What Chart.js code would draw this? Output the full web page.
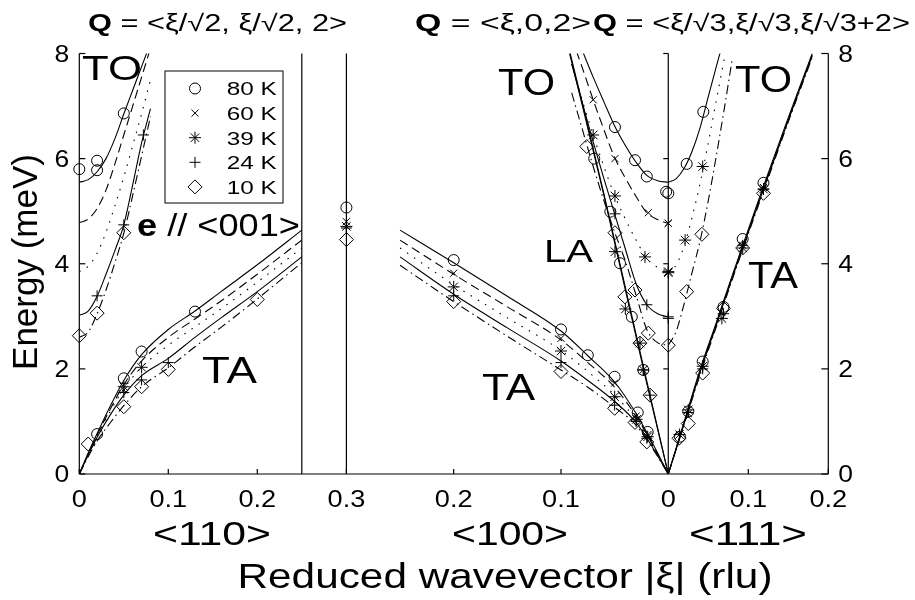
<!DOCTYPE html>
<html>
<head>
<meta charset="utf-8">
<script src="https://cdn.jsdelivr.net/npm/chart.js@4"></script>
<style>
    html, body { margin: 0; padding: 0; background: #fff; }
    #wrap { width: 915px; height: 600px; }
</style>
</head>
<body>
<div id="wrap"><canvas id="chart__dispersion"></canvas></div>
<script>
const temps = ['80 K', '60 K', '39 K', '24 K', '10 K'];

const xiTA110 = [0, 0.01, 0.02, 0.035, 0.05, 0.07, 0.1, 0.13, 0.16, 0.2, 0.25];
const ta110 = {
    '80 K': [0, 0.40, 0.77, 1.30, 1.78, 2.27, 2.75, 3.10, 3.48, 3.98, 4.64],
    '60 K': [0, 0.38, 0.74, 1.24, 1.70, 2.15, 2.60, 2.95, 3.30, 3.80, 4.45],
    '39 K': [0, 0.37, 0.72, 1.20, 1.62, 2.03, 2.45, 2.80, 3.15, 3.65, 4.30],
    '24 K': [0, 0.36, 0.70, 1.13, 1.50, 1.87, 2.20, 2.60, 2.98, 3.47, 4.13],
    '10 K': [0, 0.33, 0.63, 0.98, 1.30, 1.66, 2.02, 2.42, 2.80, 3.33, 4.02]
};
const xiTO110 = [0, 0.01, 0.02, 0.03, 0.04, 0.05, 0.06, 0.07, 0.08];
const to110 = {
    '80 K': [5.55, 5.60, 5.75, 6.00, 6.38, 6.85, 7.30, 7.75, 8.20],
    '60 K': [4.78, 4.85, 5.05, 5.40, 5.90, 6.45, 7.00, 7.55, 8.10],
    '39 K': [3.85, 3.95, 4.20, 4.60, 5.10, 5.65, 6.25, 6.85, 7.50],
    '24 K': [3.02, 3.10, 3.38, 3.80, 4.25, 4.74, 5.50, 6.30, 6.95],
    '10 K': [2.60, 2.70, 3.05, 3.50, 4.02, 4.58, 5.30, 6.05, 6.80]
};

// <100> : TA, LA and TO branches
const xiTA100 = [0, 0.015, 0.03, 0.05, 0.075, 0.1, 0.15, 0.2, 0.25];
const ta100 = {
    '80 K': [0, 0.60, 1.15, 1.75, 2.25, 2.72, 3.38, 4.02, 4.64],
    '60 K': [0, 0.57, 1.10, 1.65, 2.12, 2.55, 3.18, 3.80, 4.45],
    '39 K': [0, 0.55, 1.03, 1.50, 1.95, 2.35, 2.97, 3.60, 4.30],
    '24 K': [0, 0.52, 0.98, 1.38, 1.78, 2.15, 2.78, 3.42, 4.13],
    '10 K': [0, 0.50, 0.93, 1.27, 1.65, 1.98, 2.62, 3.28, 3.97]
};
const xiTO100 = [0, 0.01, 0.02, 0.03, 0.04, 0.05, 0.06, 0.07, 0.08, 0.09];
const to100 = {
    '80 K': [5.55, 5.58, 5.68, 5.93, 6.25, 6.62, 7.08, 7.55, 8.05, null],
    '60 K': [4.77, 4.84, 4.97, 5.28, 5.63, 6.02, 6.55, 7.12, 7.72, 8.30],
    '39 K': [3.85, 3.93, 4.10, 4.45, 4.85, 5.30, 5.85, 6.45, 7.10, 7.80],
    '24 K': [2.99, 3.05, 3.22, 3.62, 4.28, 4.95, 5.62, 6.32, 7.05, 7.80],
    '10 K': [2.45, 2.50, 2.75, 3.40, 4.05, 4.60, 5.20, 5.85, 6.55, 7.25]
};
const xiLA100 = [0, 0.02, 0.04, 0.06, 0.08, 0.092];
const la100 = {
    '80 K': [0, 1.72, 3.50, 5.30, 7.00, 8.00],
    '24 K': [0, 1.76, 3.55, 5.33, 7.05, 8.05]
};

// <111> : TA and TO branches
const xiTA111 = [0, 0.02, 0.04, 0.06, 0.08, 0.1, 0.12, 0.15, 0.18];
const ta111 = {
    '80 K': [0, 1.00, 2.00, 2.88, 3.78, 4.65, 5.52, 6.78, 8.00],
    '60 K': [0, 0.98, 1.96, 2.85, 3.75, 4.62, 5.48, 6.75, 7.98],
    '39 K': [0, 0.97, 1.94, 2.82, 3.72, 4.60, 5.45, 6.72, 7.95],
    '24 K': [0, 0.97, 1.95, 2.84, 3.74, 4.60, 5.46, 6.73, 7.96],
    '10 K': [0, 0.95, 1.90, 2.80, 3.70, 4.57, 5.42, 6.70, 7.93]
};
const xiTO111 = [0, 0.01, 0.02, 0.03, 0.04, 0.05, 0.06, 0.07, 0.08];
const to111 = {
    '80 K': [5.55, 5.62, 5.82, 6.15, 6.60, 7.18, 7.75, 8.30, null],
    '39 K': [3.83, 3.98, 4.35, 4.90, 5.55, 6.30, 7.10, 7.90, null],
    '10 K': [2.45, 2.72, 3.25, 3.85, 4.45, 5.20, 6.05, 6.95, 7.90]
};

// measured points [xi, E]
const obs110 = {
    '80 K': [[0, 5.80], [0.02, 5.96], [0.02, 5.78], [0.05, 6.86], [0.02, 0.76], [0.05, 1.82], [0.07, 2.33], [0.13, 3.09]],
    '60 K': [[0.05, 1.60]],
    '39 K': [[0.05, 1.66], [0.07, 2.03]],
    '24 K': [[0.02, 3.39], [0.05, 4.74], [0.072, 6.45], [0.05, 1.55], [0.07, 1.79], [0.1, 2.12]],
    '10 K': [[0, 2.63], [0.02, 3.06], [0.05, 4.59], [0.01, 0.57], [0.05, 1.28], [0.07, 1.66], [0.1, 1.99], [0.2, 3.32]]
};
const obs100 = {
    '80 K': [[0.0497, 6.60], [0.031, 5.97], [0.020, 5.66], [0, 5.34], [0.002, 5.37],
             [0.069, 6.00], [0.054, 4.99], [0.045, 4.01], [0.034, 2.99], [0.0233, 1.98],
             [0.2, 4.07], [0.1, 2.75], [0.075, 2.26], [0.05, 1.85], [0.0285, 1.17], [0.0192, 0.80]],
    '60 K': [[0.07, 7.12], [0.0497, 6.00], [0.0186, 4.97], [0, 4.77],
             [0.2, 3.82], [0.1, 2.58], [0.05, 1.73], [0.03, 1.10], [0.019, 0.75]],
    '39 K': [[0.07, 6.45], [0.0497, 5.29], [0.0217, 4.13], [0, 3.85],
             [0.0497, 4.23], [0.040, 3.14], [0.0264, 2.49], [0.0233, 1.98],
             [0.2, 3.56], [0.1, 2.34], [0.05, 1.47], [0.0295, 1.04], [0.0192, 0.71]],
    '24 K': [[0.0497, 4.95], [0.020, 3.22], [0, 2.99],
             [0.0233, 1.98], [0.017, 1.50],
             [0.2, 3.39], [0.1, 2.12], [0.05, 1.31], [0.03, 1.00], [0.02, 0.68]],
    '10 K': [[0.076, 6.23], [0.0497, 4.59], [0.031, 3.50], [0.0186, 2.68], [0, 2.45],
             [0.0404, 3.37], [0.0264, 2.49], [0.017, 1.50],
             [0.2, 3.28], [0.1, 1.95], [0.05, 1.25], [0.031, 0.98], [0.02, 0.61]]
};
const obs111 = {
    '80 K': [[0.023, 5.90], [0.0438, 6.89],
             [0.0146, 0.71], [0.025, 1.19], [0.043, 2.14], [0.069, 3.18], [0.093, 4.47], [0.119, 5.54]],
    '60 K': [[0, 4.77], [0.025, 1.15], [0.043, 2.05], [0.093, 4.35], [0.119, 5.45]],
    '39 K': [[0, 3.83], [0.021, 4.45], [0.043, 5.85],
             [0.014, 0.75], [0.025, 1.22], [0.043, 2.05], [0.067, 2.96], [0.093, 4.30], [0.119, 5.42]],
    '24 K': [[0, 2.96], [0.025, 1.17], [0.043, 2.00], [0.069, 3.05], [0.093, 4.35], [0.119, 5.42]],
    '10 K': [[0.023, 3.47], [0.042, 4.56],
             [0.0134, 0.68], [0.025, 0.96], [0.043, 1.92], [0.069, 3.15], [0.093, 4.30], [0.119, 5.34]]
};
// points past the <110> zone edge, plotted at <100> xi = 0.3
const xiEdge = 0.3;
const obsEdge = { '80 K': 5.07, '60 K': 4.80, '39 K': 4.71, '24 K': 4.68, '10 K': 4.46 };

const yTicks = [0, 2, 4, 6, 8];
const ticks110 = [0, 0.1, 0.2];
const ticks100 = [0.3, 0.2, 0.1, 0];
const ticks111 = [0.1, 0.2];

// the three directions share one x axis, each with its own scale
const U_ZERO100 = 0.6618;
const K100 = 1.2056;
const K111 = 0.8989;
const U_MAX = 0.8416;
const map110 = xi => xi;
const map100 = xi => U_ZERO100 - xi * K100;
const map111 = xi => U_ZERO100 + xi * K111;

const dashes = { '80 K': [], '60 K': [9, 5], '39 K': [1.5, 7], '24 K': [], '10 K': [9, 4, 1.5, 4] };
const markers = {
    '80 K': { pointStyle: 'circle', pointRadius: 5.5 },
    '60 K': { pointStyle: 'crossRot', pointRadius: 5 },
    '39 K': { pointStyle: 'star', pointRadius: 6 },
    '24 K': { pointStyle: 'cross', pointRadius: 5.5 },
    '10 K': { pointStyle: 'rectRot', pointRadius: 7 }
};

function curve(xs, es, map, t) {
    const pts = [];
    xs.forEach((xi, i) => { if (es[i] !== null) pts.push({ x: map(xi), y: es[i] }); });
    pts.sort((a, b) => a.x - b.x);
    return {
        label: t + ' fit', data: pts, showLine: true, pointRadius: 0,
        borderColor: '#000', borderWidth: 1.1, borderDash: dashes[t],
        cubicInterpolationMode: 'monotone', fill: false
    };
}

const datasets = [];
temps.forEach(t => {
    datasets.push(curve(xiTA110, ta110[t], map110, t));
    datasets.push(curve(xiTO110, to110[t], map110, t));
    datasets.push(curve(xiTA100, ta100[t], map100, t));
    datasets.push(curve(xiTO100, to100[t], map100, t));
    datasets.push(curve(xiTA111, ta111[t], map111, t));
    if (la100[t]) datasets.push(curve(xiLA100, la100[t], map100, t));
    if (to111[t]) datasets.push(curve(xiTO111, to111[t], map111, t));
});
temps.forEach(t => {
    const pts = []
        .concat(obs110[t].map(p => ({ x: map110(p[0]), y: p[1] })))
        .concat(obs100[t].map(p => ({ x: map100(p[0]), y: p[1] })))
        .concat(obs111[t].map(p => ({ x: map111(p[0]), y: p[1] })));
    pts.push({ x: map100(xiEdge), y: obsEdge[t] });
    datasets.push(Object.assign({
        label: t, data: pts, showLine: false, clip: false,
        borderColor: '#000', backgroundColor: 'rgba(0,0,0,0)',
        pointBorderWidth: 1, pointBorderColor: '#000', pointBackgroundColor: 'rgba(0,0,0,0)'
    }, markers[t]));
});

const FONT = '"Liberation Sans", Arial, Helvetica, sans-serif';

// text squeezed or stretched horizontally to a given width (the figure is wide)
function label(ctx, parts, x, base, size, opt) {
    opt = opt || {};
    let w = 0;
    parts.forEach(p => {
        ctx.font = (p.bold ? 'bold ' : '') + size + 'px ' + FONT;
        p.w = ctx.measureText(p.t).width;
        w += p.w;
    });
    const s = opt.width ? opt.width / w : (opt.sx || 1);
    const align = opt.align || 'left';
    const left = align === 'center' ? x - w * s / 2 : align === 'right' ? x - w * s : x;
    ctx.save();
    ctx.translate(left, base);
    ctx.scale(s, 1);
    ctx.textAlign = 'left';
    ctx.textBaseline = 'alphabetic';
    let cx = 0;
    parts.forEach(p => {
        ctx.font = (p.bold ? 'bold ' : '') + size + 'px ' + FONT;
        ctx.fillText(p.t, cx, 0);
        cx += p.w;
    });
    ctx.restore();
}

const frame = {
    id: 'frame',
    afterDatasetsDraw(chart) {
        const { ctx, chartArea: a, scales: { x, y } } = chart;
        ctx.save();
        ctx.strokeStyle = '#000';
        ctx.fillStyle = '#000';
        ctx.lineWidth = 1.2;
        const seg = (x1, y1, x2, y2) => {
            ctx.beginPath(); ctx.moveTo(x1, y1); ctx.lineTo(x2, y2); ctx.stroke();
        };

        // axis box (no top line) and panel separators
        seg(a.left, a.top, a.left, a.bottom);
        seg(a.left, a.bottom, a.right, a.bottom);
        seg(a.right, a.top, a.right, a.bottom);
        [map110(0.25), map100(xiEdge), map100(0)].forEach(u => {
            const px = x.getPixelForValue(u);
            seg(px, a.top, px, a.bottom);
        });

        // y ticks, inward
        const mid = x.getPixelForValue(map100(0));
        yTicks.forEach(v => {
            const py = y.getPixelForValue(v);
            seg(a.left, py, a.left + 6, py);
            seg(a.right, py, a.right - 7, py);
            if (v > 0) seg(mid, py, mid - 5, py);
            label(ctx, [{ t: String(v) }], a.left - 10, py + 8.3, 23, { align: 'right', sx: 1.15 });
            label(ctx, [{ t: String(v) }], a.right + 10, py + 8.3, 23, { align: 'left', sx: 1.15 });
        });

        // x ticks, inward
        const xt = []
            .concat(ticks110.map(v => [map110(v), v]))
            .concat(ticks100.map(v => [map100(v), v]))
            .concat(ticks111.map(v => [map111(v), v]));
        xt.forEach(([u, v]) => {
            const px = x.getPixelForValue(u);
            seg(px, a.bottom, px, a.bottom - 5);
            label(ctx, [{ t: String(v) }], px, 507, 23, { align: 'center', sx: 1.18 });
        });

        // direction labels and axis titles
        label(ctx, [{ t: '<110>' }], 212, 545, 33, { align: 'center', width: 118 });
        label(ctx, [{ t: '<100>' }], 510, 545, 33, { align: 'center', width: 116 });
        label(ctx, [{ t: '<111>' }], 748, 545, 33, { align: 'center', width: 118 });
        label(ctx, [{ t: 'Reduced wavevector |ξ| (rlu)' }], 505, 588, 35, { align: 'center', width: 535 });

        ctx.save();
        ctx.translate(37, 262);
        ctx.rotate(-Math.PI / 2);
        ctx.font = '35px ' + FONT;
        ctx.textAlign = 'center';
        ctx.textBaseline = 'alphabetic';
        ctx.fillText('Energy (meV)', 0, 0);
        ctx.restore();

        // panel titles
        label(ctx, [{ t: 'Q', bold: true }, { t: ' = <ξ/√2, ξ/√2, 2>' }], 88, 31, 23, { width: 259 });
        label(ctx, [{ t: 'Q', bold: true }, { t: ' = <ξ,0,2>' }], 415, 31, 23, { width: 176 });
        label(ctx, [{ t: 'Q', bold: true }, { t: ' = <ξ/√3,ξ/√3,ξ/√3+2>' }], 593, 31, 23, { width: 317 });

        // branch labels
        label(ctx, [{ t: 'TO' }], 82, 80, 35, { width: 60 });
        label(ctx, [{ t: 'e', bold: true }, { t: ' // <001>' }], 137, 236, 31, { width: 163 });
        label(ctx, [{ t: 'TA' }], 202, 383, 36, { width: 55 });
        label(ctx, [{ t: 'TO' }], 498, 95, 36, { width: 57 });
        label(ctx, [{ t: 'LA' }], 544, 262, 31, { width: 49 });
        label(ctx, [{ t: 'TA' }], 482, 400, 36, { width: 53 });
        label(ctx, [{ t: 'TO' }], 735, 92, 36, { width: 57 });
        label(ctx, [{ t: 'TA' }], 748, 288, 36, { width: 50 });

        // legend box
        ctx.fillStyle = '#fff';
        ctx.fillRect(165, 71, 118, 132);
        ctx.lineWidth = 1;
        ctx.strokeRect(165, 71, 118, 132);
        chart.data.datasets.filter(d => !d.showLine).forEach((d, i) => {
            const cy = 88.5 + i * 24.6;
            ctx.strokeStyle = '#000';
            ctx.fillStyle = 'rgba(0,0,0,0)';
            Chart.helpers.drawPoint(ctx, {
                pointStyle: d.pointStyle, radius: d.pointRadius, rotation: 0, borderWidth: 1
            }, 195, cy);
            ctx.fillStyle = '#000';
            label(ctx, [{ t: d.label }], 226.7, cy + 6.8, 19, { width: 50 });
        });
        ctx.restore();
    }
};

new Chart(document.getElementById('chart__dispersion'), {
    type: 'line',
    data: { datasets: datasets },
    options: {
        responsive: true,
        maintainAspectRatio: false,
        animation: false,
        layout: { padding: { left: 79.3, right: 86.7, top: 53.5, bottom: 126 } },
        scales: {
            x: { type: 'linear', min: 0, max: U_MAX, display: false },
            y: { type: 'linear', min: 0, max: 8, display: false }
        },
        plugins: { legend: { display: false }, tooltip: { enabled: false } },
        elements: { line: { borderCapStyle: 'butt' } }
    },
    plugins: [frame]
});
</script>
</body>
</html>
